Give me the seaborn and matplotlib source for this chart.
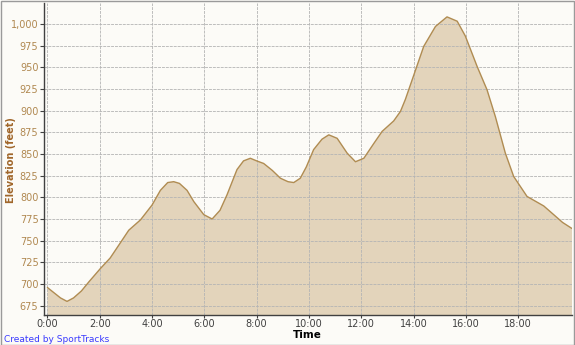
import matplotlib
matplotlib.use("Agg")
import matplotlib.pyplot as plt
import seaborn as sns
import pandas as pd
from matplotlib.patches import Rectangle

hours = [0, 0.25, 0.5, 0.75, 1.0, 1.3, 1.6, 2.03, 2.4, 2.8, 3.11, 3.56, 4.0, 4.32, 4.6,
         4.83, 5.05, 5.34, 5.6, 5.98, 6.3, 6.6, 6.87, 7.25, 7.5, 7.76, 8.0, 8.27, 8.6,
         8.91, 9.2, 9.42, 9.67, 9.9, 10.18, 10.5, 10.76, 11.08, 11.46, 11.78, 12.1, 12.48,
         12.8, 13.24, 13.5, 13.69, 14.0, 14.39, 14.84, 15.28, 15.67, 15.98, 16.43, 16.81,
         17.13, 17.51, 17.83, 18.34, 18.98, 19.36, 19.7, 20.06]
elevation = [696, 690, 684, 680, 684, 692, 703, 718, 730, 748, 762, 774, 791, 808, 817,
             818, 816, 808, 795, 780, 775, 785, 803, 832, 842, 845, 842, 839, 831,
             822, 818, 817, 822, 835, 855, 867, 872, 868, 851, 841, 845, 862,
             876, 888, 899, 913, 940, 974, 997, 1008, 1003, 986, 951, 924,
             893, 851, 824, 801, 790, 780, 771, 764]
x_ticks = [0, 2, 4, 6, 8, 10, 12, 14, 16, 18]
x_labels = ["0:00", "2:00", "4:00", "6:00", "8:00", "10:00", "12:00", "14:00", "16:00", "18:00"]
y_ticks = [675, 700, 725, 750, 775, 800, 825, 850, 875, 900, 925, 950, 975, 1000]
y_labels = ["675", "700", "725", "750", "775", "800", "825", "850", "875", "900",
            "925", "950", "975", "1,000"]

df = pd.DataFrame({"Time": hours, "Elevation": elevation})

sns.set_style("white")
plt.rcParams["font.family"] = ["DejaVu Sans"]

fig = plt.figure(figsize=(5.75, 3.45), dpi=100)
fig.patch.set_facecolor("#fcfbf7")
ax = fig.add_axes([44 / 575, 1 - 315 / 345, (572 - 44) / 575, (315 - 3) / 345])
ax.set_facecolor("#fcfbf7")

ax.fill_between(df["Time"], df["Elevation"], 600, color="#e3d4bb", zorder=2, linewidth=0)
sns.lineplot(data=df, x="Time", y="Elevation", ax=ax, color="#b08c52", linewidth=1.0, zorder=3)

ax.set_xlim(-0.13, 20.06)
ax.set_ylim(664.3, 1024)
ax.set_xticks(x_ticks)
ax.set_xticklabels(x_labels)
ax.set_yticks(y_ticks)
ax.set_yticklabels(y_labels)
ax.grid(True, color="#b4b4b4", linestyle=(0, (3.5, 1.2)), linewidth=0.6, zorder=4)
ax.set_axisbelow(False)

for s in ["top", "right"]:
    ax.spines[s].set_visible(False)
for s in ["left", "bottom"]:
    ax.spines[s].set_color("#404040")
    ax.spines[s].set_linewidth(1.0)
    ax.spines[s].set_zorder(5)

ax.tick_params(axis="y", which="both", left=True, length=3, width=0.8, color="#404040",
               labelsize=7, labelcolor="#b08850", pad=1)
ax.tick_params(axis="x", which="both", bottom=True, length=2.5, width=0.8, color="#404040",
               labelsize=7, labelcolor="#404040", pad=0.5)

ax.set_xlabel("")
ax.set_ylabel("")
fig.text(11 / 575, 1 - 160 / 345, "Elevation (feet)", rotation=90, ha="center", va="center",
         fontsize=7, fontweight="bold", color="#a0662a")
fig.text(307 / 575, 1 - 335.5 / 345, "Time", ha="center", va="center",
         fontsize=7.5, fontweight="bold", color="#000000")
fig.text(4 / 575, 1 - 339 / 345, "Created by SportTracks", ha="left", va="center",
         fontsize=6.5, color="#3a3aff")

fig.patches.append(Rectangle((0.5 / 575, 0.5 / 345), 1 - 1.5 / 575, 1 - 1.5 / 345,
                             transform=fig.transFigure, fill=False,
                             edgecolor="#9a9a9a", linewidth=1.0))

fig.savefig("out.png", dpi=100, facecolor=fig.get_facecolor())
